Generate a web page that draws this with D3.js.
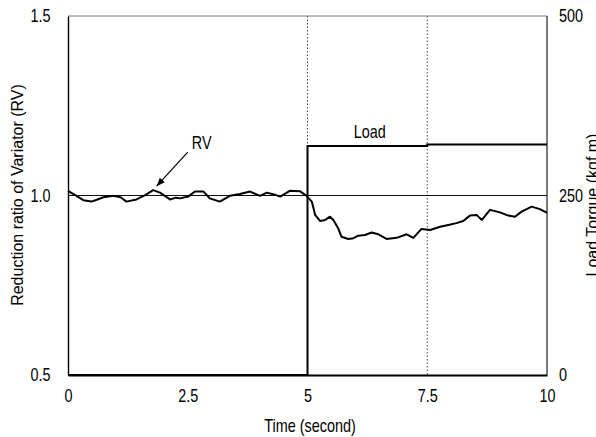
<!DOCTYPE html>
<html>
<head>
<meta charset="utf-8">
<script src="https://cdn.jsdelivr.net/npm/d3@7"></script>
<style>
  body { margin: 0; background: #fff; }
  svg { display: block; }
  .narrow { font-family: "Liberation Sans", Arial, sans-serif; font-size: 18px; }
</style>
</head>
<body>
<svg width="596" height="437"></svg>
<script>
// time (s) and reduction ratio of variator
var rvTime = [0, 0.15, 0.32, 0.49, 0.6, 0.74, 0.95, 1.1, 1.22, 1.43, 1.61, 1.78, 1.92, 2.13, 2.25, 2.34,
  2.51, 2.65, 2.83, 2.96, 3.17, 3.38, 3.59, 3.8, 4.01, 4.15, 4.3, 4.43, 4.63, 4.84, 4.98,
  5.09, 5.16, 5.26, 5.37, 5.47, 5.54, 5.64, 5.71, 5.85, 5.96, 6.06, 6.2, 6.34, 6.48, 6.65,
  6.86, 7.07, 7.21, 7.38, 7.56, 7.77, 7.94, 8.11, 8.25, 8.39, 8.53, 8.64, 8.81, 9.02, 9.19,
  9.33, 9.47, 9.68, 9.85, 10];
var rvValues = [1.013, 1.001, 0.987, 0.983, 0.988, 0.995, 0.999, 0.995, 0.983, 0.989, 1.001, 1.015, 1.008, 0.989, 0.994, 0.992,
  0.997, 1.011, 1.011, 0.992, 0.983, 0.999, 1.004, 1.011, 0.999, 1.008, 1.003, 0.997, 1.013, 1.012, 0.999,
  0.983, 0.946, 0.929, 0.932, 0.941, 0.932, 0.909, 0.885, 0.879, 0.881, 0.888, 0.890, 0.897, 0.892, 0.879,
  0.882, 0.892, 0.882, 0.907, 0.904, 0.913, 0.918, 0.923, 0.929, 0.944, 0.946, 0.932, 0.960, 0.953, 0.944,
  0.941, 0.955, 0.969, 0.962, 0.952];

// load torque (kgf.m)
var loadTime = [0, 5, 5, 7.5, 7.5, 10];
var loadValues = [0, 0, 319, 319, 321, 321];

var xTicks = [0, 2.5, 5, 7.5, 10];
var xTickLabels = ["0", "2.5", "5", "7.5", "10"];
var yTicks = [0.5, 1.0, 1.5];
var yTickLabels = ["0.5", "1.0", "1.5"];
var y2Ticks = [0, 250, 500];
var y2TickLabels = ["0", "250", "500"];
var gridTimes = [5, 7.5];
var refRV = 1.0;

var svg = d3.select("svg");
var m = { left: 68, right: 547, top: 16, bottom: 375 };
var squeeze = "scale(0.8,1)";

var x = d3.scaleLinear().domain([0, 10]).range([m.left, m.right]);
var y = d3.scaleLinear().domain([0.5, 1.5]).range([m.bottom, m.top]);
var y2 = d3.scaleLinear().domain([0, 500]).range([m.bottom, m.top]);

// dotted gridlines at 5 and 7.5 s
svg.selectAll(".grid").data(gridTimes).enter().append("line")
   .attr("x1", function (d) { return x(d); })
   .attr("x2", function (d) { return x(d); })
   .attr("y1", m.top).attr("y2", m.bottom)
   .attr("stroke", "#444").attr("stroke-width", 1)
   .attr("stroke-dasharray", "1.5,2");

// frame: top gray, right thin
svg.append("line").attr("x1", m.left).attr("x2", m.right).attr("y1", m.top).attr("y2", m.top)
   .attr("stroke", "#777").attr("stroke-width", 1);
svg.append("line").attr("x1", m.right).attr("x2", m.right).attr("y1", m.top).attr("y2", m.bottom)
   .attr("stroke", "#222").attr("stroke-width", 1.2);

// reference line RV = 1.0
svg.append("line").attr("x1", m.left).attr("x2", m.right)
   .attr("y1", y(refRV)).attr("y2", y(refRV))
   .attr("stroke", "#111").attr("stroke-width", 1.2);

// load line
var loadLine = d3.line()
  .x(function (d, i) { return x(loadTime[i]); })
  .y(function (d) { return y2(d); });
svg.append("path").datum(loadValues)
   .attr("d", loadLine)
   .attr("fill", "none").attr("stroke", "#000").attr("stroke-width", 2);

// RV line
var rvLine = d3.line()
  .x(function (d, i) { return x(rvTime[i]); })
  .y(function (d) { return y(d); });
svg.append("path").datum(rvValues)
   .attr("d", rvLine)
   .attr("fill", "none").attr("stroke", "#000").attr("stroke-width", 2)
   .attr("stroke-linejoin", "round");

// axes (left and bottom)
svg.append("g").attr("transform", "translate(0," + m.bottom + ")")
   .call(d3.axisBottom(x).tickValues(xTicks).tickSize(0).tickPadding(14)
     .tickFormat(function (d, i) { return xTickLabels[i]; }))
   .call(function (g) {
     g.select(".domain").attr("stroke", "#000").attr("stroke-width", 2.2);
     g.selectAll("text").attr("class", "narrow").attr("fill", "#000").attr("transform", squeeze);
   });

svg.append("g").attr("transform", "translate(" + m.left + ",0)")
   .call(d3.axisLeft(y).tickValues(yTicks).tickSize(0).tickPadding(22)
     .tickFormat(function (d, i) { return yTickLabels[i]; }))
   .call(function (g) {
     g.select(".domain").attr("stroke", "#000").attr("stroke-width", 1.4);
     g.selectAll("text").attr("class", "narrow").attr("fill", "#000").attr("transform", squeeze);
   });

svg.append("g").attr("transform", "translate(" + m.right + ",0)")
   .call(d3.axisRight(y2).tickValues(y2Ticks).tickSize(0).tickPadding(15)
     .tickFormat(function (d, i) { return y2TickLabels[i]; }))
   .call(function (g) {
     g.select(".domain").remove();
     g.selectAll("text").attr("class", "narrow").attr("fill", "#000").attr("transform", squeeze);
   });

// axis titles
svg.append("text").attr("class", "narrow")
   .attr("transform", "translate(310,432) " + squeeze)
   .attr("text-anchor", "middle")
   .text("Time (second)");

svg.append("text")
   .attr("transform", "translate(23,195) rotate(-90)")
   .attr("text-anchor", "middle")
   .attr("font-family", "Liberation Sans, Arial, sans-serif")
   .attr("font-size", "16px")
   .text("Reduction ratio of Variator (RV)");

svg.append("text")
   .attr("transform", "translate(598,205) rotate(-90)")
   .attr("text-anchor", "middle")
   .attr("font-family", "Liberation Sans, Arial, sans-serif")
   .attr("font-size", "16px")
   .text("Load Torque (kgf.m)");

// annotations
svg.append("text").attr("class", "narrow")
   .attr("transform", "translate(" + x(2.79) + "," + y(1.13) + ") " + squeeze)
   .attr("text-anchor", "middle")
   .text("RV");

svg.append("text").attr("class", "narrow")
   .attr("transform", "translate(" + x(6.3) + "," + y2(330) + ") " + squeeze)
   .attr("text-anchor", "middle")
   .text("Load");

svg.append("defs").append("marker")
   .attr("id", "arrow").attr("viewBox", "0 0 10 10")
   .attr("refX", 10).attr("refY", 5)
   .attr("markerWidth", 7).attr("markerHeight", 7)
   .attr("orient", "auto")
   .append("path").attr("d", "M0,1 L10,5 L0,9 Z").attr("fill", "#000");

svg.append("line")
   .attr("x1", x(2.5)).attr("y1", y(1.121))
   .attr("x2", x(1.85)).attr("y2", y(1.026))
   .attr("stroke", "#000").attr("stroke-width", 1.2)
   .attr("marker-end", "url(#arrow)");
</script>
</body>
</html>
